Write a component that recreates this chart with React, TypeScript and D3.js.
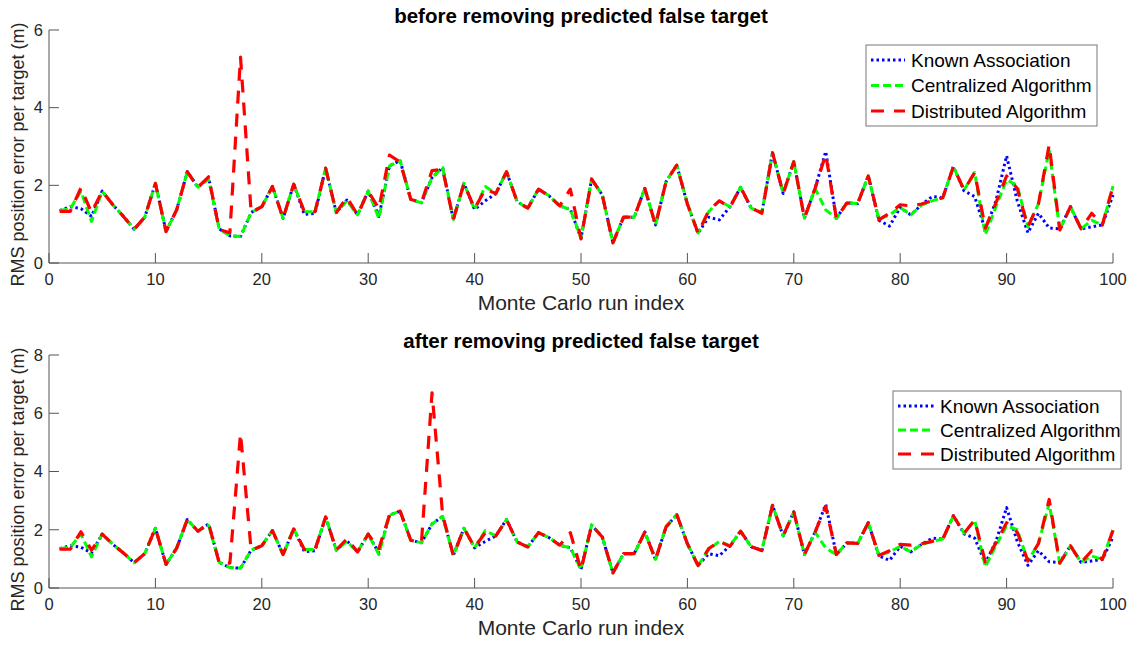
import React from "react";
import * as d3 from "d3";

// Monte Carlo run index (x values)
const runs = d3.range(1, 101);

// RMS error per target
const known = [
  1.35, 1.45, 1.4, 1.2, 1.85, 1.5, 1.2, 0.87, 1.18, 2.05,
  0.81, 1.37, 2.35, 1.95, 2.2, 0.88, 0.7, 0.68, 1.3, 1.45,
  1.97, 1.15, 2.03, 1.25, 1.28, 2.44, 1.3, 1.62, 1.24, 1.85,
  1.2, 2.5, 2.64, 1.64, 1.55, 2.2, 2.46, 1.12, 2.05, 1.38,
  1.6, 1.79, 2.35, 1.58, 1.41, 1.9, 1.73, 1.47, 1.38, 0.64,
  2.16, 1.75, 0.52, 1.18, 1.18, 1.92, 0.98, 2.1, 2.52, 1.52,
  0.77, 1.18, 1.11, 1.45, 1.95, 1.41, 1.3, 2.84, 1.79, 2.61,
  1.15, 1.92, 2.87, 1.15, 1.55, 1.53, 2.24, 1.1, 0.95, 1.43,
  1.24, 1.5, 1.71, 1.68, 2.48, 1.86, 1.71, 0.85, 1.6, 2.76,
  1.6, 0.78, 1.28, 0.9, 0.88, 1.45, 0.88, 0.93, 0.98, 1.75,
];

const centralized = [
  1.35, 1.4, 1.85, 1.07, 1.85, 1.5, 1.2, 0.87, 1.18, 2.05,
  0.81, 1.37, 2.35, 1.95, 2.15, 0.88, 0.7, 0.68, 1.3, 1.45,
  1.97, 1.15, 2.03, 1.32, 1.32, 2.44, 1.3, 1.6, 1.24, 1.85,
  1.15, 2.5, 2.64, 1.64, 1.55, 2.2, 2.46, 1.12, 2.05, 1.38,
  1.97, 1.79, 2.35, 1.58, 1.41, 1.9, 1.73, 1.47, 1.38, 0.64,
  2.16, 1.75, 0.52, 1.18, 1.18, 1.92, 0.98, 2.1, 2.52, 1.52,
  0.77, 1.32, 1.6, 1.45, 1.95, 1.41, 1.3, 2.84, 1.79, 2.61,
  1.15, 1.92, 1.37, 1.15, 1.55, 1.53, 2.24, 1.12, 1.24, 1.43,
  1.24, 1.49, 1.6, 1.68, 2.48, 1.88, 2.33, 0.73, 1.45, 2.14,
  2.0, 0.93, 1.53, 2.9, 0.85, 1.45, 0.88, 1.1, 0.98, 1.98,
];

const distributedBefore = [
  1.33, 1.33, 1.93, 1.3, 1.85, 1.5, 1.2, 0.87, 1.18, 2.05,
  0.81, 1.37, 2.35, 1.95, 2.22, 0.86, 0.78, 5.3, 1.3, 1.45,
  1.97, 1.15, 2.03, 1.32, 1.32, 2.44, 1.3, 1.69, 1.24, 1.85,
  1.4, 2.78, 2.6, 1.64, 1.55, 2.38, 2.41, 1.12, 2.05, 1.4,
  1.9, 1.79, 2.35, 1.58, 1.41, 1.9, 1.73, 1.47, 1.9, 0.62,
  2.16, 1.75, 0.52, 1.18, 1.18, 1.92, 0.98, 2.1, 2.52, 1.52,
  0.77, 1.35, 1.6, 1.43, 1.95, 1.42, 1.28, 2.84, 1.79, 2.61,
  1.15, 1.92, 2.8, 1.15, 1.55, 1.53, 2.24, 1.12, 1.28, 1.5,
  1.47, 1.52, 1.6, 1.68, 2.48, 1.88, 2.33, 0.9, 1.55, 2.24,
  1.92, 0.93, 1.53, 3.04, 0.85, 1.45, 0.88, 1.28, 0.98, 1.98,
];

const distributedAfter = [
  1.33, 1.33, 1.93, 1.3, 1.85, 1.5, 1.2, 0.87, 1.18, 2.05,
  0.81, 1.37, 2.35, 1.95, 2.22, 0.86, 0.85, 5.3, 1.3, 1.45,
  1.97, 1.15, 2.03, 1.32, 1.32, 2.44, 1.3, 1.69, 1.24, 1.85,
  1.35, 2.5, 2.64, 1.64, 1.55, 6.7, 2.5, 1.12, 2.05, 1.4,
  1.9, 1.79, 2.35, 1.58, 1.41, 1.9, 1.73, 1.47, 1.9, 0.62,
  2.16, 1.75, 0.52, 1.18, 1.18, 1.92, 0.98, 2.1, 2.52, 1.52,
  0.77, 1.35, 1.6, 1.43, 1.95, 1.42, 1.28, 2.84, 1.79, 2.61,
  1.15, 1.92, 2.8, 1.15, 1.55, 1.53, 2.24, 1.12, 1.28, 1.5,
  1.47, 1.52, 1.6, 1.68, 2.48, 1.88, 2.33, 0.9, 1.55, 2.24,
  1.92, 0.93, 1.53, 3.04, 0.85, 1.45, 0.88, 1.28, 0.98, 1.98,
];

const xTicks = [0, 10, 20, 30, 40, 50, 60, 70, 80, 90, 100];
const yTicksBefore = [0, 2, 4, 6];
const yTicksAfter = [0, 2, 4, 6, 8];
const seriesNames = ["Known Association", "Centralized Algorithm", "Distributed Algorithm"];

const FONT = "'Liberation Sans', Arial, Helvetica, sans-serif";
const TEXT = "#262626";
const AXIS = "#555";

const styles = [
  { color: "#0000ff", dash: "2.5,3", width: 3 },
  { color: "#00ff00", dash: "8,4", width: 3 },
  { color: "#ff0000", dash: "13,10", width: 3.2 },
];

const Panel = ({ top, bottom, yMax, yTicks, title, dist, legend }) => {
  const left = 49;
  const right = 1113;

  const x = d3.scaleLinear().domain([0, 100]).range([left, right]);
  const y = d3.scaleLinear().domain([0, yMax]).range([bottom, top]);

  const line = d3
    .line<number>()
    .x((d, i) => x(runs[i]))
    .y((d) => y(d));

  const series = [known, centralized, dist];

  return (
    <g>
      {/* title */}
      <text
        x={(left + right) / 2}
        y={top - 7}
        textAnchor="middle"
        fontFamily={FONT}
        fontWeight="bold"
        fontSize={20.5}
        fill="#000"
      >
        {title}
      </text>

      {/* axes */}
      <line x1={left} x2={right} y1={bottom} y2={bottom} stroke={AXIS} />
      <line x1={left} x2={left} y1={top} y2={bottom} stroke={AXIS} />
      {xTicks.map((t) => (
        <g key={"x" + t}>
          <line x1={x(t)} x2={x(t)} y1={bottom} y2={bottom - 10} stroke={AXIS} />
          <text
            x={x(t)}
            y={bottom + 22}
            textAnchor="middle"
            fontFamily={FONT}
            fontSize={16.5}
            fill={TEXT}
          >
            {t}
          </text>
        </g>
      ))}
      {yTicks.map((t) => (
        <g key={"y" + t}>
          <line x1={left} x2={left + 10} y1={y(t)} y2={y(t)} stroke={AXIS} />
          <text
            x={left - 6}
            y={y(t)}
            dy="0.35em"
            textAnchor="end"
            fontFamily={FONT}
            fontSize={16.5}
            fill={TEXT}
          >
            {t}
          </text>
        </g>
      ))}

      <text
        x={(left + right) / 2}
        y={bottom + 47}
        textAnchor="middle"
        fontFamily={FONT}
        fontSize={21}
        fill={TEXT}
      >
        Monte Carlo run index
      </text>
      <text
        transform={`translate(24, ${(top + bottom) / 2 + 8}) rotate(-90)`}
        textAnchor="middle"
        fontFamily={FONT}
        fontSize={18}
        fill={TEXT}
      >
        RMS position error per target (m)
      </text>

      {/* data lines */}
      {series.map((s, i) => (
        <path
          key={"s" + i}
          d={line(s)}
          fill="none"
          stroke={styles[i].color}
          strokeWidth={styles[i].width}
          strokeDasharray={styles[i].dash}
          strokeLinejoin="round"
        />
      ))}

      {/* legend */}
      <rect
        x={legend.x}
        y={legend.y}
        width={legend.w}
        height={legend.h}
        fill="#fff"
        stroke="#777"
      />
      {seriesNames.map((name, i) => {
        const ly = legend.y + 15 + i * legend.step;
        return (
          <g key={name}>
            <line
              x1={legend.x + 5}
              x2={legend.x + legend.sample}
              y1={ly}
              y2={ly}
              stroke={styles[i].color}
              strokeWidth={styles[i].width}
              strokeDasharray={styles[i].dash}
            />
            <text
              x={legend.x + legend.sample + 6}
              y={ly}
              dy="0.35em"
              fontFamily={FONT}
              fontSize={19}
              fill="#000"
            >
              {name}
            </text>
          </g>
        );
      })}
    </g>
  );
};

const App = () => {
  return (
    <svg
      width={1133}
      height={647}
      style={{ position: "absolute", left: 0, top: 0, background: "#fff" }}
    >
      <Panel
        top={30}
        bottom={263}
        yMax={6}
        yTicks={yTicksBefore}
        title="before removing predicted false target"
        dist={distributedBefore}
        legend={{ x: 866, y: 45, w: 231, h: 81, step: 25.5, sample: 39 }}
      />
      <Panel
        top={355}
        bottom={588}
        yMax={8}
        yTicks={yTicksAfter}
        title="after removing predicted false target"
        dist={distributedAfter}
        legend={{ x: 893, y: 391, w: 228, h: 78, step: 24, sample: 41 }}
      />
    </svg>
  );
};

export default App;
